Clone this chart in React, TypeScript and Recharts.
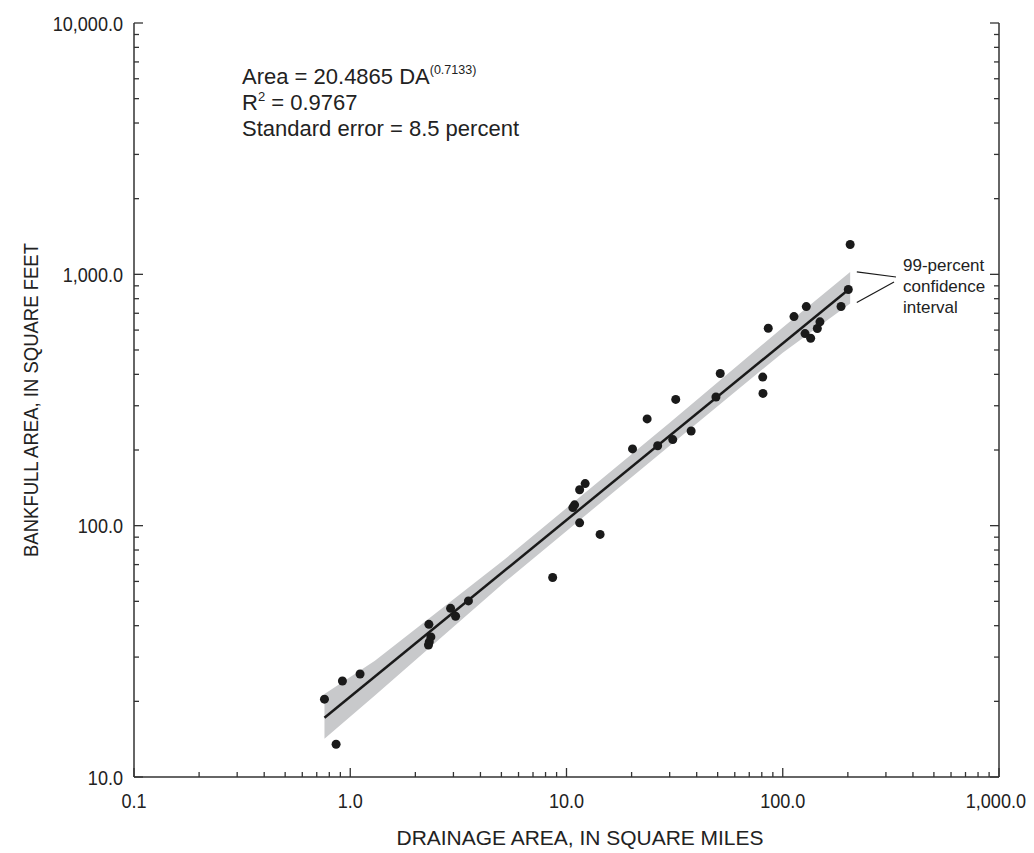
import React from "react";
import {
  ComposedChart,
  XAxis,
  YAxis,
  Scatter,
  Line,
  Area,
  ReferenceLine,
} from "recharts";

// observed sites: drainage area (sq mi) vs bankfull area (sq ft)
const sites: { x: number; y: number }[] = [
  { x: 0.76, y: 20.4 },
  { x: 0.92, y: 24.1 },
  { x: 1.11, y: 25.7 },
  { x: 0.86, y: 13.5 },
  { x: 2.31, y: 40.5 },
  { x: 2.36, y: 36.1 },
  { x: 2.32, y: 34.5 },
  { x: 2.3, y: 33.5 },
  { x: 2.91, y: 46.9 },
  { x: 3.07, y: 43.6 },
  { x: 3.52, y: 50.2 },
  { x: 8.63, y: 62.2 },
  { x: 10.9, y: 121 },
  { x: 10.7, y: 118 },
  { x: 11.5, y: 139 },
  { x: 12.2, y: 147 },
  { x: 11.5, y: 102.6 },
  { x: 14.3, y: 92.3 },
  { x: 20.2, y: 202 },
  { x: 23.6, y: 266 },
  { x: 26.4, y: 208 },
  { x: 31.0, y: 220 },
  { x: 32.0, y: 318 },
  { x: 37.7, y: 238 },
  { x: 49.1, y: 325 },
  { x: 51.4, y: 403 },
  { x: 80.8, y: 390 },
  { x: 81.0, y: 336 },
  { x: 85.7, y: 610 },
  { x: 112.7, y: 679 },
  { x: 126.8, y: 581 },
  { x: 128.5, y: 744 },
  { x: 134.6, y: 557 },
  { x: 144.5, y: 609 },
  { x: 148.6, y: 647 },
  { x: 186, y: 745 },
  { x: 201, y: 870 },
  { x: 205, y: 1314 },
];

// fitted regression line end points
const fitLine = [
  { x: 0.76, y: 17.2 },
  { x: 205, y: 880 },
];

// 99-percent confidence band
const band = [
  { x: 0.76, lo: 14.2, hi: 21.4 },
  { x: 1.3, lo: 21.1, hi: 29.0 },
  { x: 5.2, lo: 59.8, hi: 73.7 },
  { x: 30, lo: 208, hi: 257 },
  { x: 100, lo: 488, hi: 614 },
  { x: 205, lo: 766, hi: 1022 },
];

const xMajors = [0.1, 1, 10, 100, 1000];
const yMajors = [10, 100, 1000, 10000];
const minorSteps = [2, 3, 4, 5, 6, 7, 8, 9];

const withMinors = (majors: number[]) =>
  majors.flatMap((m, i) =>
    i < majors.length - 1 ? [m, ...minorSteps.map((s) => +(m * s).toPrecision(3))] : [m]
  );

const xTicks = withMinors(xMajors);
const yTicks = withMinors(yMajors);

const AXIS = "#333";
const INK = "#1a1a1a";
const FONT = '"Liberation Sans", Arial, sans-serif';
const TICK_FS = 21;
const PAGE_W = 1034;
const EDGE = 8; // keep labels this far from the page edge

const isMajor = (v: number) => Math.abs(Math.log10(v) - Math.round(Math.log10(v))) < 1e-6;
const fmt = (v: number) =>
  v.toLocaleString("en-US", { minimumFractionDigits: 1, maximumFractionDigits: 1 });
// squeeze tick labels a little to get the condensed look of the original
const squeeze = (s: string) =>
  [...s].reduce((w, c) => w + (/\d/.test(c) ? 0.556 : 0.278), 0) * TICK_FS * 0.86;

const MAJOR_LEN = 9;
const MINOR_LEN = 5;

function BottomTick({ x, y, payload }: any) {
  const major = isMajor(payload.value);
  const s = fmt(payload.value);
  const w = squeeze(s);
  // the last label would spill past the page edge, so right-align it there
  const spills = x + w / 2 > PAGE_W - EDGE;
  return (
    <g>
      <line x1={x} x2={x} y1={y} y2={y - (major ? MAJOR_LEN : MINOR_LEN)} stroke={AXIS} strokeWidth={1.3} />
      {major && (
        <text
          x={spills ? PAGE_W - EDGE : x}
          y={y + 31}
          textAnchor={spills ? "end" : "middle"}
          fontSize={TICK_FS}
          fill="#222"
          fontFamily={FONT}
          textLength={w}
          lengthAdjust="spacingAndGlyphs"
        >
          {s}
        </text>
      )}
    </g>
  );
}

function TopTick({ x, y, payload }: any) {
  const major = isMajor(payload.value);
  return <line x1={x} x2={x} y1={y} y2={y + (major ? MAJOR_LEN : MINOR_LEN)} stroke={AXIS} strokeWidth={1.3} />;
}

function LeftTick({ x, y, payload }: any) {
  const major = isMajor(payload.value);
  const s = fmt(payload.value);
  return (
    <g>
      <line x1={x} x2={x + (major ? MAJOR_LEN : MINOR_LEN)} y1={y} y2={y} stroke={AXIS} strokeWidth={1.3} />
      {major && (
        <text
          x={x - 11}
          y={y + 7.5}
          textAnchor="end"
          fontSize={TICK_FS}
          fill="#222"
          fontFamily={FONT}
          textLength={squeeze(s)}
          lengthAdjust="spacingAndGlyphs"
        >
          {s}
        </text>
      )}
    </g>
  );
}

function RightTick({ x, y, payload }: any) {
  const major = isMajor(payload.value);
  return <line x1={x} x2={x - (major ? MAJOR_LEN : MINOR_LEN)} y1={y} y2={y} stroke={AXIS} strokeWidth={1.3} />;
}

const Dot = (p: any) => <circle cx={p.cx} cy={p.cy} r={4.5} fill={INK} />;

export default function App() {
  return (
    <div style={{ position: "absolute", left: 0, top: 0, width: PAGE_W, height: 853, background: "#fff" }}>
      <ComposedChart width={PAGE_W} height={853} margin={{ top: 23, right: 0, bottom: 0, left: 0 }}>
        <XAxis
          xAxisId="b"
          dataKey="x"
          type="number"
          scale="log"
          domain={[0.1, 1000]}
          allowDataOverflow
          ticks={xTicks}
          interval={0}
          height={76}
          tickSize={0}
          tickMargin={0}
          tick={<BottomTick />}
          axisLine={{ stroke: AXIS, strokeWidth: 1.5 }}
        />
        <XAxis
          xAxisId="t"
          orientation="top"
          dataKey="x"
          type="number"
          scale="log"
          domain={[0.1, 1000]}
          allowDataOverflow
          ticks={xTicks}
          interval={0}
          height={0}
          tickSize={0}
          tickMargin={0}
          tick={<TopTick />}
          axisLine={{ stroke: AXIS, strokeWidth: 1.5 }}
        />
        <YAxis
          yAxisId="l"
          dataKey="y"
          type="number"
          scale="log"
          domain={[10, 10000]}
          allowDataOverflow
          ticks={yTicks}
          interval={0}
          width={134}
          tickSize={0}
          tickMargin={0}
          tick={<LeftTick />}
          axisLine={{ stroke: AXIS, strokeWidth: 1.5 }}
        />
        <YAxis
          yAxisId="r"
          orientation="right"
          dataKey="y"
          type="number"
          scale="log"
          domain={[10, 10000]}
          allowDataOverflow
          ticks={yTicks}
          interval={0}
          width={35}
          tickSize={0}
          tickMargin={0}
          tick={<RightTick />}
          axisLine={{ stroke: AXIS, strokeWidth: 1.5 }}
        />
        <Area
          xAxisId="b"
          yAxisId="l"
          data={band}
          dataKey={(d: any) => [d.lo, d.hi]}
          type="linear"
          fill="#c8c9cb"
          fillOpacity={1}
          stroke="none"
          isAnimationActive={false}
        />
        <Line
          xAxisId="b"
          yAxisId="l"
          data={fitLine}
          dataKey="y"
          type="linear"
          stroke={INK}
          strokeWidth={2.5}
          dot={false}
          isAnimationActive={false}
        />
        <Scatter xAxisId="b" yAxisId="l" data={sites} dataKey="y" shape={<Dot />} isAnimationActive={false} />
        <ReferenceLine
          xAxisId="b"
          yAxisId="l"
          segment={[{ x: 220, y: 1022 }, { x: 334, y: 976 }]}
          stroke={INK}
          strokeWidth={1.2}
          ifOverflow="visible"
        />
        <ReferenceLine
          xAxisId="b"
          yAxisId="l"
          segment={[{ x: 220, y: 773 }, { x: 327, y: 933 }]}
          stroke={INK}
          strokeWidth={1.2}
          ifOverflow="visible"
        />
      </ComposedChart>
      <svg
        width={PAGE_W}
        height={853}
        style={{ position: "absolute", left: 0, top: 0, pointerEvents: "none" }}
        fontFamily={FONT}
        fill="#222"
      >
        <text x={242} y={84} fontSize={22}>
          Area = 20.4865 DA
          <tspan fontSize={12.5} dy={-10}>(0.7133)</tspan>
        </text>
        <text x={242} y={110} fontSize={22}>
          R<tspan fontSize={13} dy={-9}>2</tspan>
          <tspan dy={9}> = 0.9767</tspan>
        </text>
        <text x={242} y={136} fontSize={22}>
          Standard error = 8.5 percent
        </text>
        <text x={903} y={271} fontSize={17}>99-percent</text>
        <text x={903} y={292} fontSize={17}>confidence</text>
        <text x={903} y={313} fontSize={17}>interval</text>
        <text x={580} y={845} fontSize={21} textAnchor="middle" textLength={367} lengthAdjust="spacingAndGlyphs">
          DRAINAGE AREA, IN SQUARE MILES
        </text>
        <text
          x={38}
          y={400}
          fontSize={21}
          textAnchor="middle"
          textLength={314}
          lengthAdjust="spacingAndGlyphs"
          transform="rotate(-90 38 400)"
        >
          BANKFULL AREA, IN SQUARE FEET
        </text>
      </svg>
    </div>
  );
}
